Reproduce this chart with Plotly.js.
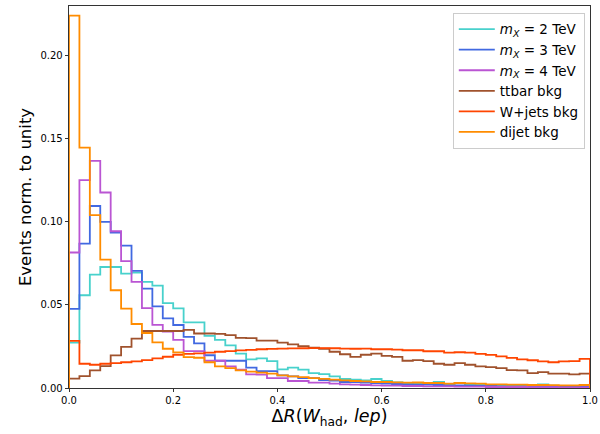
<!DOCTYPE html>
<html>
<head>
<meta charset="utf-8">
<script src="https://cdn.plot.ly/plotly-3.0.1.min.js"></script>
<style>html,body{margin:0;padding:0;background:#fff;}#chart{width:600px;height:434px;}</style>
</head>
<body>
<div id="chart"></div>
<script>
// 50 bins of width 0.02 from 0 to 1
const binEdges = Array.from({length: 51}, (_, i) => +(i * 0.02).toFixed(2));

const mX2 = [0.0273,0.0558,0.0682,0.0728,0.0728,0.0688,0.0694,0.0638,0.0616,0.0511,
             0.0479,0.0395,0.0395,0.0313,0.0289,0.0257,0.0207,0.0172,0.0178,0.0162,
             0.0112,0.0122,0.0110,0.0090,0.0084,0.0070,0.0054,0.0050,0.0046,0.0054,
             0.0042,0.0034,0.0028,0.0026,0.0026,0.0036,0.0024,0.0030,0.0022,0.0020,
             0.0018,0.0018,0.0016,0.0016,0.0014,0.0022,0.0014,0.0012,0.0012,0.0012];
const mX3 = [0.0476,0.0868,0.1095,0.0999,0.0935,0.0857,0.0704,0.0598,0.0491,0.0419,
             0.0379,0.0307,0.0268,0.0197,0.0164,0.0164,0.0164,0.0122,0.0102,0.0102,
             0.0076,0.0070,0.0060,0.0060,0.0048,0.0044,0.0036,0.0036,0.0032,0.0030,
             0.0026,0.0024,0.0022,0.0020,0.0020,0.0018,0.0016,0.0016,0.0014,0.0012,
             0.0012,0.0010,0.0010,0.0010,0.0008,0.0008,0.0008,0.0006,0.0006,0.0006];
const mX4 = [0.0815,0.1250,0.1366,0.1176,0.0943,0.0763,0.0638,0.0480,0.0380,0.0340,
             0.0290,0.0222,0.0222,0.0164,0.0164,0.0130,0.0110,0.0082,0.0080,0.0060,
             0.0060,0.0042,0.0042,0.0032,0.0032,0.0026,0.0022,0.0020,0.0018,0.0016,
             0.0014,0.0014,0.0012,0.0012,0.0010,0.0010,0.0010,0.0008,0.0008,0.0008,
             0.0006,0.0006,0.0006,0.0006,0.0005,0.0005,0.0005,0.0004,0.0004,0.0004];
const ttbar = [0.0056,0.0072,0.0106,0.0132,0.0196,0.0247,0.0297,0.0343,0.0343,0.0343,
               0.0343,0.0350,0.0328,0.0328,0.0326,0.0318,0.0302,0.0300,0.0285,0.0285,
               0.0273,0.0262,0.0252,0.0243,0.0236,0.0218,0.0203,0.0187,0.0200,0.0207,
               0.0193,0.0187,0.0164,0.0168,0.0162,0.0146,0.0140,0.0150,0.0140,0.0130,
               0.0126,0.0120,0.0108,0.0106,0.0090,0.0096,0.0086,0.0086,0.0082,0.0086];
const wjets = [0.0283,0.0146,0.0140,0.0146,0.0150,0.0155,0.0160,0.0168,0.0178,0.0188,
               0.0200,0.0205,0.0208,0.0213,0.0218,0.0222,0.0226,0.0229,0.0233,0.0235,
               0.0237,0.0238,0.0239,0.0240,0.0240,0.0239,0.0237,0.0236,0.0237,0.0233,
               0.0233,0.0231,0.0227,0.0227,0.0221,0.0221,0.0213,0.0215,0.0213,0.0205,
               0.0199,0.0190,0.0181,0.0172,0.0167,0.0160,0.0155,0.0160,0.0162,0.0175];
const dijet = [0.2240,0.1446,0.1040,0.0772,0.0588,0.0477,0.0385,0.0331,0.0275,0.0236,
               0.0214,0.0186,0.0182,0.0155,0.0130,0.0119,0.0106,0.0098,0.0092,0.0086,
               0.0076,0.0070,0.0066,0.0060,0.0055,0.0050,0.0046,0.0042,0.0040,0.0036,
               0.0036,0.0034,0.0032,0.0033,0.0030,0.0030,0.0026,0.0030,0.0028,0.0026,
               0.0022,0.0022,0.0020,0.0020,0.0018,0.0018,0.0017,0.0016,0.0016,0.0018];

const seriesNames = ['<i>m</i><sub><i>X</i></sub> = 2 TeV', '<i>m</i><sub><i>X</i></sub> = 3 TeV',
                     '<i>m</i><sub><i>X</i></sub> = 4 TeV', 'ttbar bkg', 'W+jets bkg', 'dijet bkg'];
const seriesData = [mX2, mX3, mX4, ttbar, wjets, dijet];
const seriesColors = ['#48D1CC', '#4169E1', '#BA55D3', '#A0522D', '#FF4500', '#FF8C00'];

const xTickVals = [0, 0.2, 0.4, 0.6, 0.8, 1.0];
const xTickText = ['0.0', '0.2', '0.4', '0.6', '0.8', '1.0'];
const yTickVals = [0, 0.05, 0.10, 0.15, 0.20];
const yTickText = ['0.00', '0.05', '0.10', '0.15', '0.20'];

function stepTrace(vals, name, color) {
  const x = [binEdges[0]];
  const y = [0];
  for (let i = 0; i < vals.length; i++) { x.push(binEdges[i]); y.push(vals[i]); }
  x.push(binEdges[binEdges.length - 1]); y.push(vals[vals.length - 1]);
  x.push(binEdges[binEdges.length - 1]); y.push(0);
  return {
    type: 'scatter', mode: 'lines', x: x, y: y, name: name,
    line: {shape: 'hv', color: color, width: 1.8},
    hoverinfo: 'skip'
  };
}

const traces = seriesData.map((d, i) => stepTrace(d, seriesNames[i], seriesColors[i]));

const layout = {
  width: 600, height: 434,
  paper_bgcolor: '#fff', plot_bgcolor: '#fff',
  margin: {l: 69, r: 10, t: 6, b: 46.3},
  font: {family: 'DejaVu Sans, sans-serif', size: 10, color: '#000'},
  showlegend: true,
  legend: {
    x: 0.99, y: 0.982, xanchor: 'right', yanchor: 'top',
    bgcolor: 'rgba(255,255,255,0.8)', bordercolor: '#cccccc', borderwidth: 1,
    font: {family: 'DejaVu Sans, sans-serif', size: 13.5, color: '#000'},
    tracegroupgap: 0, itemwidth: 36
  },
  xaxis: {
    range: [0, 1], tickvals: xTickVals, ticktext: xTickText,
    ticks: 'outside', ticklen: 3.5, tickwidth: 0.8, tickcolor: '#000',
    showline: true, mirror: true, linecolor: '#000', linewidth: 0.8,
    showgrid: false, zeroline: false,
    tickfont: {size: 10},
    title: {text: 'Δ<i>R</i>(<i>W</i><sub>had</sub>, <i>lep</i>)', font: {size: 17.5}, standoff: 2}
  },
  yaxis: {
    range: [0, 0.2298], tickvals: yTickVals, ticktext: yTickText,
    ticks: 'outside', ticklen: 3.5, tickwidth: 0.8, tickcolor: '#000',
    showline: true, mirror: true, linecolor: '#000', linewidth: 0.8,
    showgrid: false, zeroline: false,
    tickfont: {size: 10},
    title: {text: 'Events norm. to unity', font: {size: 16.5}, standoff: 4}
  }
};

Plotly.newPlot('chart', traces, layout, {displayModeBar: false, staticPlot: true});
</script>
</body>
</html>
